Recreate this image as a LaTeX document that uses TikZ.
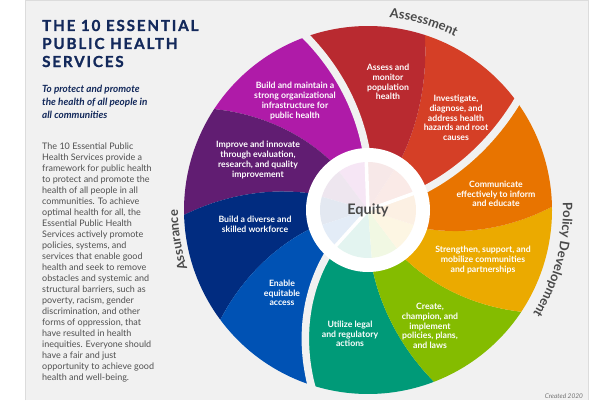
\documentclass[tikz,border=0pt]{standalone}
\usepackage{fontspec}
\setmainfont{Lato}
\newfontfamily\titlefont[LetterSpace=12, BoldFeatures={FakeBold=1.2}]{Lato}
\usetikzlibrary{decorations.text}
\definecolor{panel}{HTML}{F1F1F1}
\definecolor{panelborder}{HTML}{DCDCDC}
\definecolor{navy}{HTML}{13295B}
\definecolor{bodygray}{HTML}{505050}
\definecolor{labgray}{HTML}{4A4A4A}
\definecolor{cassess}{HTML}{B92A30}
\definecolor{cinvest}{HTML}{D53F26}
\definecolor{ccomm}{HTML}{E87400}
\definecolor{cstreng}{HTML}{EBAA00}
\definecolor{ccreate}{HTML}{84BC00}
\definecolor{cutil}{HTML}{009A78}
\definecolor{cenable}{HTML}{0052B4}
\definecolor{cdiverse}{HTML}{012C80}
\definecolor{cimprove}{HTML}{611D72}
\definecolor{cbuild}{HTML}{AF1BA8}
\newcommand\arcfont{\bfseries\fontsize{13}{15}\selectfont}
\newcommand\wsector[5]{%
  \fill[#1] plot[smooth, domain=0:1, samples=9] ({#2+\x*(#3-#2)}:{61+\x*123})
    arc[start angle=#3, end angle=#5, radius=184]
    -- plot[smooth, domain=1:0, samples=9] ({#4+\x*(#5-#4)}:{61+\x*123})
    arc[start angle=#4, end angle=#2, radius=61] -- cycle;}
\newcommand\wgap[2]{%
  \draw[panel, line width=7.5] plot[smooth, domain=-0.15:1.1, samples=10] ({#1+\x*(#2-#1)}:{61+\x*123});}
\newcommand\pwedge[3]{%
  \fill[#1!11!white] (0,0) -- (#2:48) arc[start angle=#2, end angle=#3, radius=48] -- cycle;}
\begin{document}
\begin{tikzpicture}[x=1pt,y=1pt,
  lab/.style={text=white, font=\bfseries\fontsize{8.7}{9.7}\selectfont, align=center, inner sep=0pt},
  titleline/.style={anchor=base west, inner sep=0pt, text=navy, font=\titlefont\bfseries\fontsize{15.2}{18}\selectfont},
  subline/.style={anchor=base west, inner sep=0pt, text=navy, font=\bfseries\itshape\fontsize{9.9}{12}\selectfont},
  bodyline/.style={anchor=base west, inner sep=0pt, text=bodygray, font=\fontsize{9}{11}\selectfont}]
\useasboundingbox (0,0) rectangle (600,400);
\fill[white] (0,0) rectangle (600,400);
\fill[panel] (25,0) rectangle (588,400);
\draw[panelborder, line width=0.8] (25,0) -- (25,399.6) -- (588,399.6) -- (588,0);

% title
\node[titleline] (t1) at (42,369) {THE 10 ESSENTIAL};
\node[titleline] (t2) at (42,351) {PUBLIC HEALTH};
\node[titleline] (t3) at (42,333) {SERVICES};
\node[subline] (u1) at (42,307.3) {To protect and promote};
\node[subline] (u2) at (42,294.5) {the health of all people in};
\node[subline] (u3) at (42,281.7) {all communities};
\foreach \ln [count=\i] in {{The 10 Essential Public},{Health Services provide a},{framework for public health},{to protect and promote the},{health of all people in all},{communities. To achieve},{optimal health for all, the},{Essential Public Health},{Services actively promote},{policies, systems, and},{services that enable good},{health and seek to remove},{obstacles and systemic and},{structural barriers, such as},{poverty, racism, gender},{discrimination, and other},{forms of oppression, that},{have resulted in health},{inequities. Everyone should},{have a fair and just},{opportunity to achieve good},{health and well-being.}}
  \node[bodyline] (b\i) at (42,{251-(\i-1)*11.0}) {\ln};

% wheel
\begin{scope}[shift={(368,190)}]
\wsector{cinvest}{20}{36}{57}{72}
\wsector{cassess}{57}{72}{92}{109.6}
\wsector{cbuild}{92}{109.6}{127}{146.7}
\wsector{cimprove}{127}{146.7}{164}{181.5}
\wsector{cdiverse}{164}{181.5}{198}{216.6}
\wsector{cenable}{198}{216.6}{228}{252}
\wsector{cutil}{228}{252}{274.5}{291}
\wsector{ccreate}{274.5}{291}{307}{326.4}
\wsector{cstreng}{307}{326.4}{342}{361}
\wsector{ccomm}{342}{361}{380}{396}
\wgap{20}{36}
\wgap{92}{109.6}
\wgap{228}{252}
\fill[white] (0,0) circle[radius=62];
\pwedge{cinvest}{20}{57}
\pwedge{cassess}{57}{92}
\pwedge{cbuild}{92}{127}
\pwedge{cimprove}{127}{164}
\pwedge{cdiverse}{164}{198}
\pwedge{cenable}{198}{228}
\pwedge{cutil}{228}{274.5}
\pwedge{ccreate}{274.5}{307}
\pwedge{cstreng}{307}{342}
\pwedge{ccomm}{342}{380}
\draw[white, line width=3.5] (0,0) -- (20:49);
\draw[white, line width=3.5] (0,0) -- (92:49);
\draw[white, line width=3.5] (0,0) -- (228:49);
\node[text=labgray, font=\bfseries\fontsize{14.5}{16}\selectfont, inner sep=0pt] (eq) at (0,0) {Equity};
\path[decorate, decoration={text along path, text={|\arcfont|Assessment}, text align=center, text color=labgray}]
  (100:194) arc[start angle=100, end angle=47, radius=194];
\path[decorate, decoration={text along path, text={|\arcfont|Policy Development}, text align=center, text color=labgray}]
  (20:195) arc[start angle=20, end angle=-50, radius=195];
\path[decorate, decoration={text along path, text={|\arcfont|Assurance}, text align=center, text color=labgray}]
  (215:190) arc[start angle=215, end angle=163, radius=190];
\end{scope}

% sector labels
\node[lab] (s1) at (388,318) {Assess and\\monitor\\population\\health};
\node[lab] (s2) at (456,282) {Investigate,\\diagnose, and\\address health\\hazards and root\\causes};
\node[lab] (s3) at (496,206) {Communicate\\effectively to inform\\and educate};
\node[lab] (s4) at (483,140) {Strengthen, support, and\\mobilize communities\\and partnerships};
\node[lab] (s5) at (430,74) {Create,\\champion, and\\implement\\policies, plans,\\and laws};
\node[lab] (s6) at (350,66) {Utilize legal\\and regulatory\\actions};
\node[lab] (s7) at (282,107) {Enable\\equitable\\access};
\node[lab] (s8) at (255,176) {Build a diverse and\\skilled workforce};
\node[lab] (s9) at (258,240) {Improve and innovate\\through evaluation,\\research, and quality\\improvement};
\node[lab] (s10) at (295,299) {Build and maintain a\\strong organizational\\infrastructure for\\public health};

\node[anchor=base east, inner sep=0pt, text=bodygray!80, font=\itshape\fontsize{6.5}{8}\selectfont] (cr) at (583,1.5) {Created 2020};
\end{tikzpicture}
\end{document}
